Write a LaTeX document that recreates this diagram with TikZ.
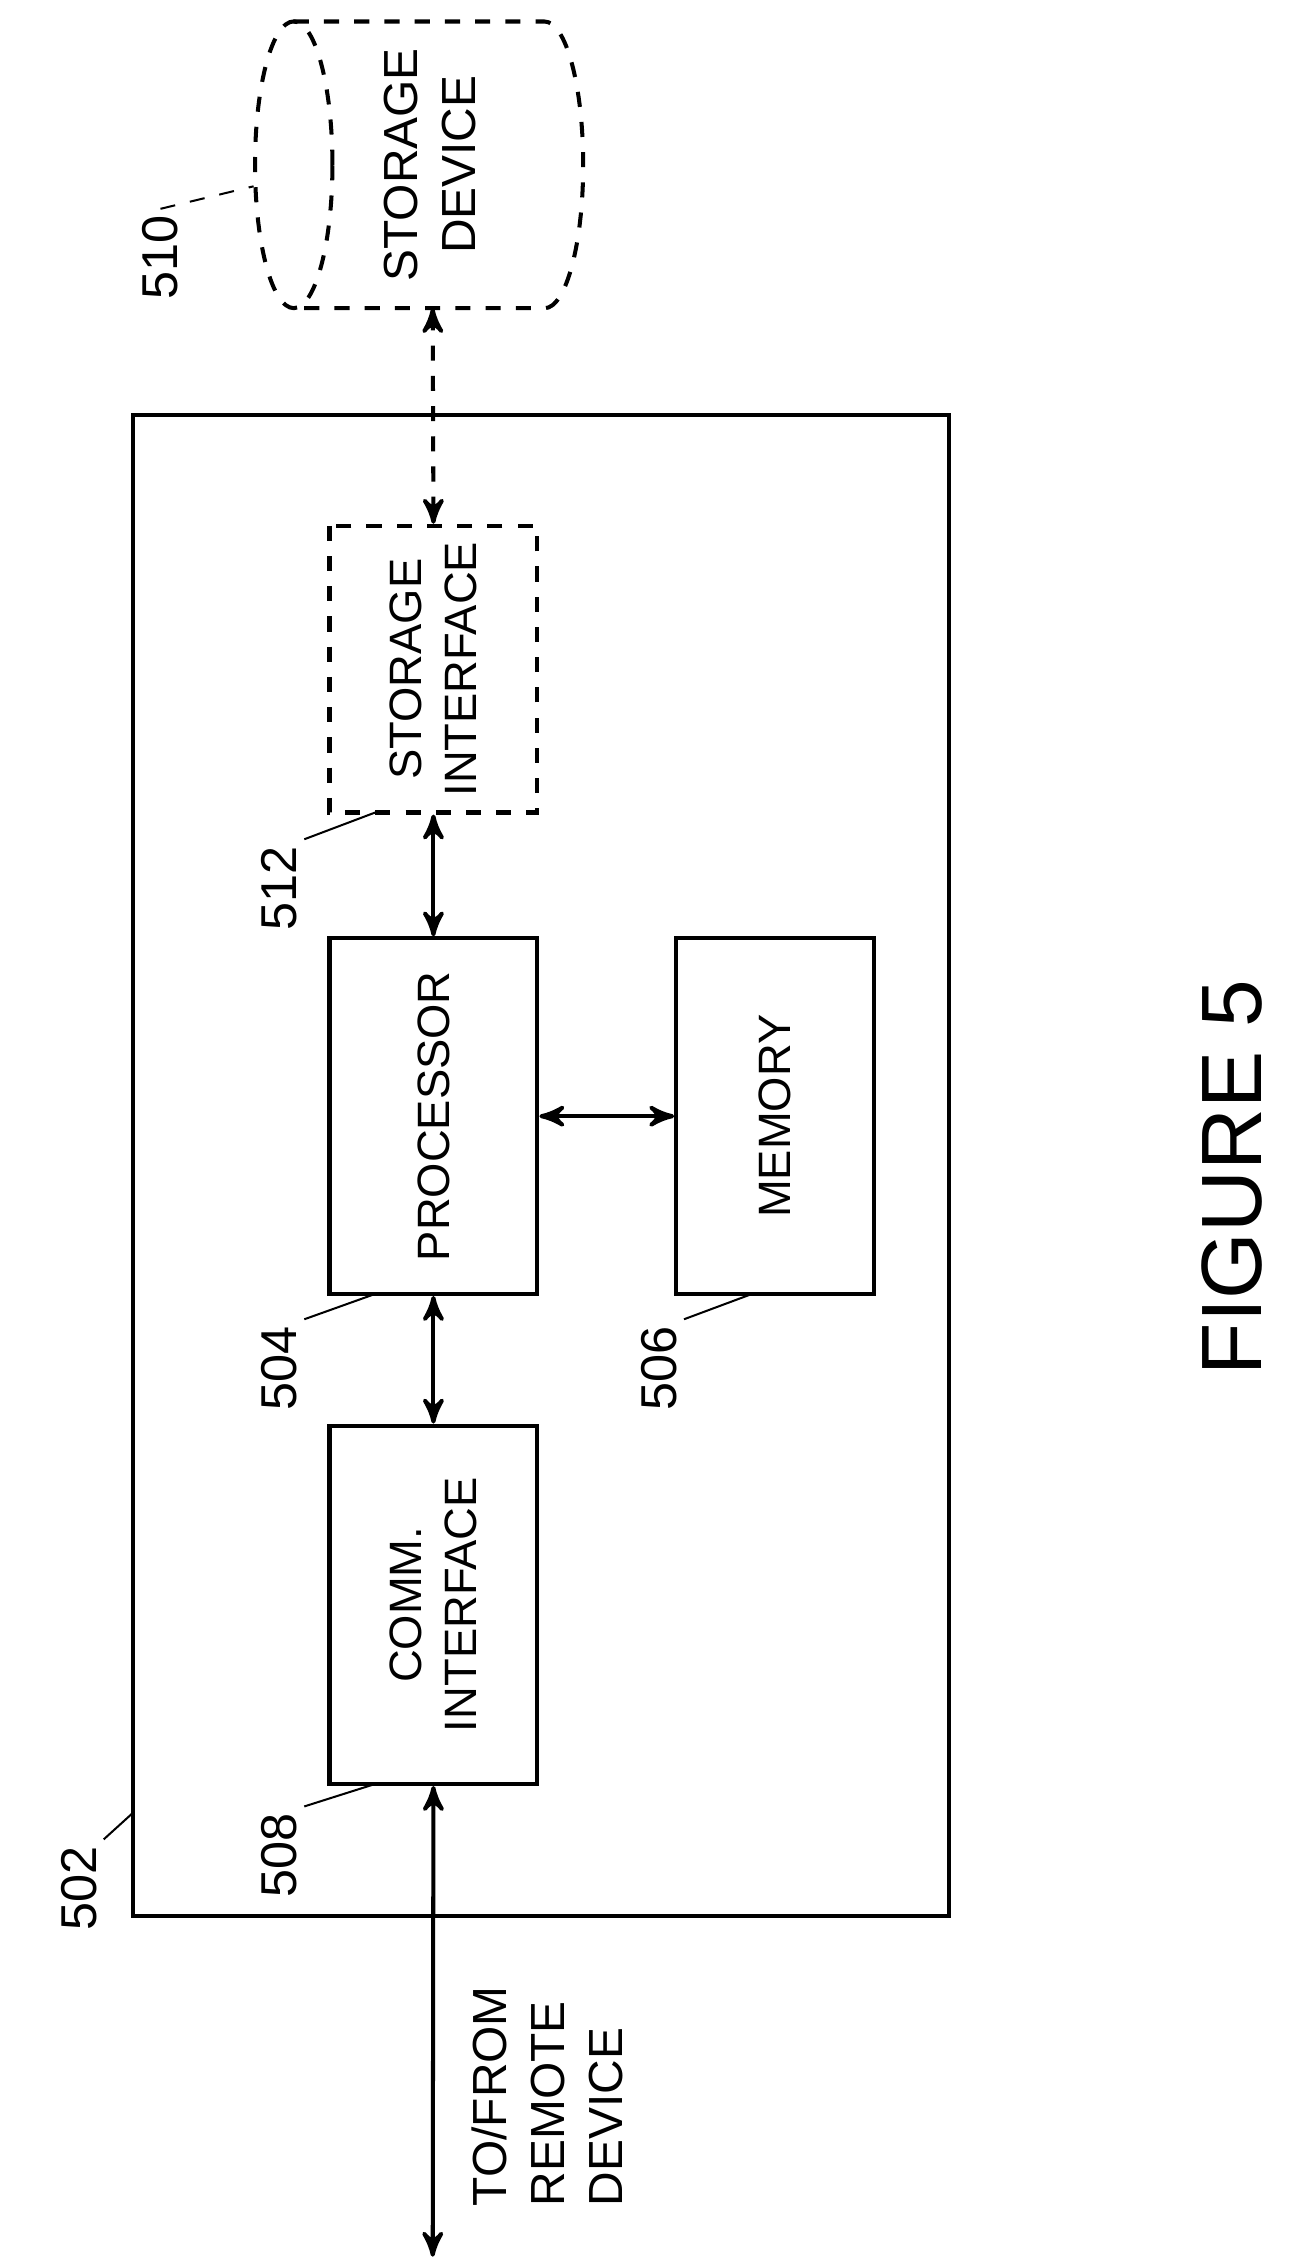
\documentclass[tikz,border=0pt]{standalone}
\usepackage{fontspec}
\setmainfont{Liberation Sans}
\usetikzlibrary{arrows}
\tikzset{
	block/.style={draw,rotate=90,align=center,font=\fontsize{9}{11}\selectfont,inner sep=2pt},
	num/.style={rotate=90,font=\fontsize{10}{12}\selectfont,inner sep=1pt},
	link/.style={<->,>=stealth',thick},
	lead/.style={thin}
}
\begin{document}
\begin{tikzpicture}[x=0.01cm,y=-0.01cm,line width=0.8pt]
	\useasboundingbox (0,0) rectangle (905,1578);
	% outer box
	\node [draw,minimum width=10.47cm,minimum height=5.69cm,rotate=90,inner sep=0pt] (dev) at (377.5,813.5) {};
	\node [block,dashed,minimum width=2.0cm,minimum height=1.45cm] (si) at (302.5,467) {STORAGE\\INTERFACE};
	\node [block,minimum width=2.48cm,minimum height=1.45cm] (proc) at (302.5,779) {PROCESSOR};
	\node [block,minimum width=2.48cm,minimum height=1.38cm] (mem) at (541,779) {MEMORY};
	\node [block,minimum width=2.5cm,minimum height=1.45cm] (comm) at (302.5,1120) {COMM.\\INTERFACE};
	% storage device
	\draw [dashed] (205,15) -- (380,15) arc (90:-90:0.27cm and 1cm) -- (205,215);
	\draw [dashed] (205,115) ellipse (0.27cm and 1cm);
	\node [rotate=90,align=center,font=\fontsize{9.5}{11.5}\selectfont] (sd) at (300,115) {STORAGE\\DEVICE};
	\coordinate (sdb) at (302,215);
	\coordinate (far) at (302,1575);
	% connectors
	\draw [link,dashed] (sdb) -- (si.east);
	\draw [link] (si.west) -- (proc.east);
	\draw [link] (proc.south) -- (mem.north);
	\draw [link] (proc.west) -- (comm.east);
	\draw [link] (comm.west) -- (far);
	\node [rotate=90,align=left,font=\fontsize{9.5}{11.5}\selectfont] (remote) at (382,1463) {TO/FROM\\REMOTE\\DEVICE};
	% reference numbers
	\node [num] (n510) at (112,180) {510};
	\node [num] (n512) at (195,620) {512};
	\node [num] (n504) at (195,955) {504};
	\node [num] (n506) at (460,955) {506};
	\node [num] (n508) at (195,1295) {508};
	\node [num] (n502) at (55,1318) {502};
	\coordinate (c510) at (177,130);
	\coordinate (c512) at (262,567);
	\coordinate (c504) at (262,903);
	\coordinate (c506) at (525,903);
	\coordinate (c508) at (262,1245);
	\coordinate (c502) at (93,1265);
	\draw [lead,dashed] (n510.east) -- (c510);
	\draw [lead] (n512.south east) -- (c512);
	\draw [lead] (n504.south east) -- (c504);
	\draw [lead] (n506.south east) -- (c506);
	\draw [lead] (n508.south east) -- (c508);
	\draw [lead] (n502.south east) -- (c502);
	\node [rotate=90,font=\fontsize{17}{20}\selectfont] (fig) at (860,822) {FIGURE 5};
\end{tikzpicture}
\end{document}
